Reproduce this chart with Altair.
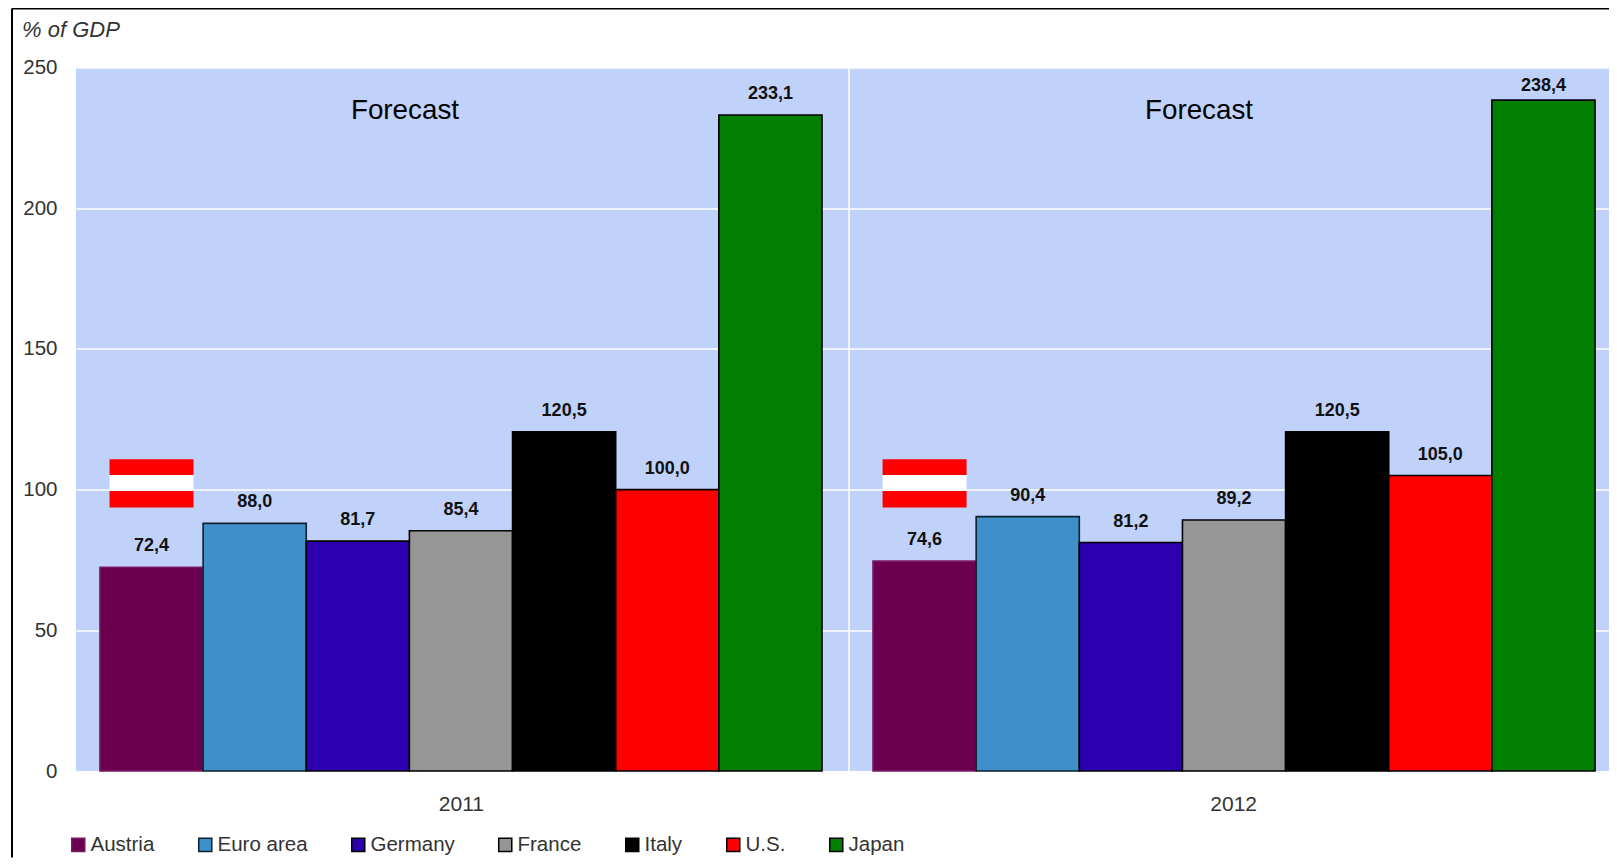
import altair as alt
import pandas as pd

FONT = "Liberation Sans"
countries = ["Austria", "Euro area", "Germany", "France", "Italy", "U.S.", "Japan"]
colors = ["#6b004f", "#3f8fcb", "#2c00ae", "#969696", "#000000", "#ff0000", "#007f00"]
strokes = ["#7a1a63", "#10202c", "#000000", "#000000", "#000000", "#000000", "#000000"]
years = ["2011", "2012"]
v2011 = [72.4, 88.0, 81.7, 85.4, 120.5, 100.0, 233.1]
v2012 = [74.6, 90.4, 81.2, 89.2, 120.5, 105.0, 238.4]
flag_low = [93.6, 99.5, 105.2]
flag_high = [99.5, 105.2, 110.8]
flag_fill = ["red", "white", "red"]
forecast_level = 234.6

rows = []
for yr, vals in zip(years, [v2011, v2012]):
    for c, v in zip(countries, vals):
        rows.append({"year": yr, "country": c, "value": v, "label": f"{v:.1f}".replace(".", ",")})
df = pd.DataFrame(rows)

flags = pd.DataFrame([
    {"year": yr, "country": countries[0], "low": l, "high": h, "fill": f}
    for yr in years for l, h, f in zip(flag_low, flag_high, flag_fill)
])
fc = pd.DataFrame({"year": years, "value": [forecast_level] * 2, "t": ["Forecast"] * 2})

xs = alt.Scale(domain=years, range=[0, 1543], paddingInner=0.066, paddingOuter=0.031)
os_ = alt.Scale(domain=countries, paddingInner=0, paddingOuter=0)
ys = alt.Scale(domain=[0, 250], nice=False)

X = alt.X("year:N", scale=xs, title=None, sort=years,
          axis=alt.Axis(domain=False, ticks=False, grid=False, labelAngle=0, labelFont=FONT,
                        labelFontSize=21, labelColor="#333333", labelPadding=33, labelOffset=23))
Y = alt.Y("value:Q", scale=ys, title=None,
          axis=alt.Axis(values=[0, 50, 100, 150, 200, 250], domain=False, ticks=False, grid=True,
                        gridColor="white", gridWidth=1.5, gridOpacity=1, labelFont=FONT,
                        labelFontSize=20.5, labelColor="#333333", labelPadding=19))
XO = alt.XOffset("country:N", scale=os_, sort=countries)
XP = alt.X("year:N", scale=xs, title=None, sort=years)
YP = alt.Y("value:Q", scale=ys, title=None)

sep = alt.Chart(pd.DataFrame({"year": years[1:]})).mark_rule(color="white", strokeWidth=1.5, xOffset=-24).encode(
    x=alt.X("year:N", scale=xs, bandPosition=0, title=None, sort=years))

flag_red = alt.Chart(flags).transform_filter("datum.fill == 'red'").mark_bar(color="#ff0000", size=84).encode(
    x=XP, xOffset=XO, y=alt.Y("low:Q", scale=ys, title=None), y2="high:Q")
flag_white = alt.Chart(flags).transform_filter("datum.fill == 'white'").mark_bar(color="#ffffff", size=84).encode(
    x=XP, xOffset=XO, y=alt.Y("low:Q", scale=ys, title=None), y2="high:Q")

bars = alt.Chart(df).mark_bar(strokeWidth=1.6).encode(
    x=X, xOffset=XO, y=Y,
    color=alt.Color("country:N", scale=alt.Scale(domain=countries, range=colors), sort=countries,
                    legend=alt.Legend(title=None, orient="none", legendX=-8, legendY=767, direction="horizontal",
                                      columns=7, symbolType="square", symbolSize=170, symbolStrokeWidth=1.5,
                                      labelFont=FONT, labelFontSize=20.5, labelColor="#333333",
                                      columnPadding=40, labelOffset=2, padding=0)),
    stroke=alt.Stroke("country:N", scale=alt.Scale(domain=countries, range=strokes), sort=countries),
)

base_text = alt.Chart(df)
labels = base_text.transform_filter("datum.value < 235").mark_text(
    font=FONT, fontSize=18, fontWeight="bold", color="#111111", dy=-21, xOffset=-1.5).encode(
    x=XP, xOffset=XO, y=YP, text="label:N")
labels_top = base_text.transform_filter("datum.value >= 235").mark_text(
    font=FONT, fontSize=18, fontWeight="bold", color="#111111", dy=-14, xOffset=-1).encode(
    x=XP, xOffset=XO, y=YP, text="label:N")

forecast_a = alt.Chart(fc).transform_filter("datum.year == '2011'").mark_text(
    font=FONT, fontSize=27.8, color="#000000", xOffset=-56).encode(x=XP, y=YP, text="t:N")
forecast_b = alt.Chart(fc).transform_filter("datum.year == '2012'").mark_text(
    font=FONT, fontSize=27.8, color="#000000", xOffset=-35).encode(x=XP, y=YP, text="t:N")

unit = alt.Chart(pd.DataFrame({"t": ["% of GDP"]})).mark_text(
    font=FONT, fontSize=22, fontStyle="italic", color="#333333", align="left", baseline="middle").encode(
    x=alt.value(-54), y=alt.value(-38), text="t:N")

frame_left = alt.Chart(pd.DataFrame({"a": [0]})).mark_rule(color="#000000", strokeWidth=2).encode(
    x=alt.value(-64), y=alt.value(-59), y2=alt.value(790))
frame_top = alt.Chart(pd.DataFrame({"a": [0]})).mark_rule(color="#000000", strokeWidth=2).encode(
    y=alt.value(-59), x=alt.value(-64), x2=alt.value(1533))

chart = alt.layer(sep, flag_red, flag_white, bars, labels, labels_top, forecast_a, forecast_b, unit,
                  frame_left, frame_top).properties(
    width=1533, height=703.5, padding={"left": 68, "top": 59.5, "right": 0, "bottom": 87},
    autosize=alt.AutoSizeParams(type="none"), background="white",
).configure_view(fill="#c0d2f9", stroke=None)

chart.save("out.html", embed_options={"renderer": "svg", "actions": False})
